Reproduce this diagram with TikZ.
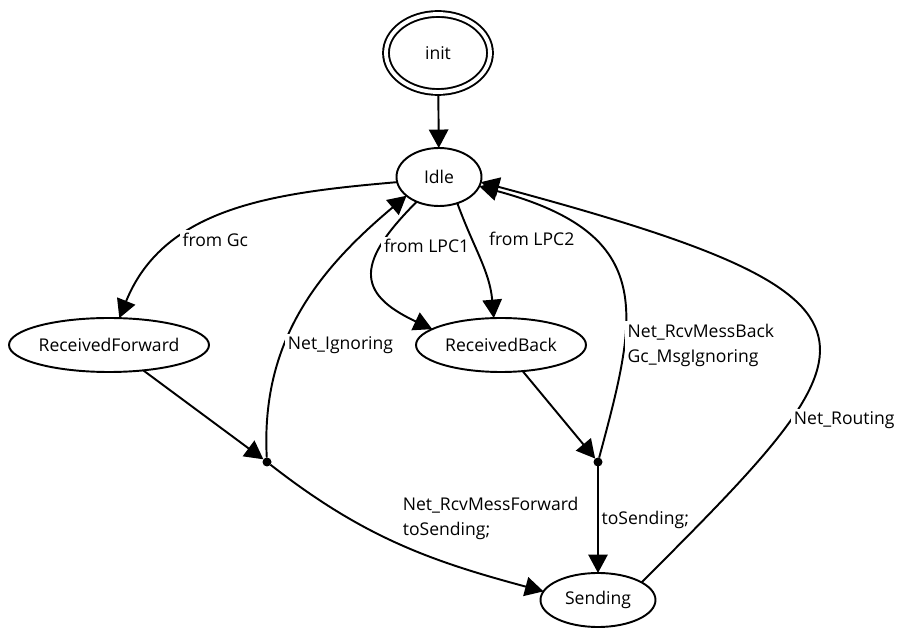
\documentclass[tikz,border=0pt]{standalone}
\usepackage{fontspec}
\setsansfont{Open Sans}
\usepackage{tkz-graph}
\usetikzlibrary{arrows.meta}
\usetikzlibrary{shapes}

\begin{document}
\begin{tikzpicture}[scale = 2, font=\sffamily\fontsize{10}{14.5}\selectfont]
	\useasboundingbox (0,0) rectangle (9.16,6.29);
	\tikzstyle{VertexStyle} = []
	\tikzstyle{EdgeStyle} = [line width = 1.1pt, -{Triangle[length = 10.5pt, width = 11pt]}]
	\tikzstyle{LabelStyle} = [inner sep = 1.5pt]
	\tikzstyle{stateStyle} = [shape = ellipse, draw, line width = 1.1pt, minimum height = 1.08cm, inner sep = 0pt]
	\tikzstyle{initStyle} = [stateStyle, double, double distance = 2.2pt, minimum width = 2.08cm, minimum height = 1.56cm]
	\tikzstyle{junctionStyle} = [shape = circle, fill, inner sep = 0pt, minimum size = 0.18cm]
	\Vertex[style = initStyle, x = 4.38, y = 5.76, L = {init}]{init}
	\Vertex[style = {stateStyle, minimum width = 1.70cm, minimum height = 1.16cm}, x = 4.39, y = 4.52, L = {Idle}]{Idle}
	\Vertex[style = {stateStyle, minimum width = 4.00cm}, x = 1.09, y = 2.84, L = {ReceivedForward}]{RecFwd}
	\Vertex[style = {stateStyle, minimum width = 3.40cm}, x = 5.01, y = 2.84, L = {ReceivedBack}]{RecBack}
	\Vertex[style = {stateStyle, minimum width = 2.30cm}, x = 5.98, y = 0.29, L = {Sending}]{Sending}
	\Vertex[style = junctionStyle, x = 2.67, y = 1.67, NoLabel]{jL}
	\Vertex[style = junctionStyle, x = 5.98, y = 1.67, NoLabel]{jR}
	% transitions out of Idle
	\Edge[style = {shorten <= 1.2pt}](init)(Idle)
	\Edge[label = {from Gc}, labelstyle = {pos = 0.69, anchor = west}, style = {out = 185, in = 68}](Idle.187)(RecFwd.69)
	\Edge[label = {from LPC1}, labelstyle = {pos = 0.28, anchor = west}, style = {out = 225, in = 155, looseness = 1.7}](Idle.228)(RecBack.167)
	\Edge[label = {from LPC2}, labelstyle = {pos = 0.3, anchor = west, xshift = 8pt}, style = {out = 290, in = 95}](Idle.305)(RecBack.105)
	% forward branch
	\Edge(RecFwd)(jL)
	\Edge[label = {Net\_Ignoring}, labelstyle = {pos = 0.37, anchor = west}, style = {out = 93, in = 220}](jL)(Idle.210)
	\Edge[label = {Net\_RcvMessForward\\toSending;}, labelstyle = {pos = 0.5, anchor = south west, align = left}, style = {out = 322, in = 165}](jL)(Sending.171)
	% back branch
	\Edge(RecBack)(jR)
	\Edge[label = {Net\_RcvMessBack\\Gc\_MsgIgnoring}, labelstyle = {pos = 0.3, anchor = west, align = left}, style = {out = 75, in = 345, out looseness = 1.27, in looseness = 1.61}](jR)(Idle.347)
	\Edge[label = {toSending;}, labelstyle = {pos = 0.5, anchor = west}](jR)(Sending)
	\Edge[label = {Net\_Routing}, labelstyle = {pos = 0.28, anchor = west}, style = {out = 45, in = 345, out looseness = 2.03, in looseness = 2.69}](Sending.22)(Idle.353)
\end{tikzpicture}
\end{document}
